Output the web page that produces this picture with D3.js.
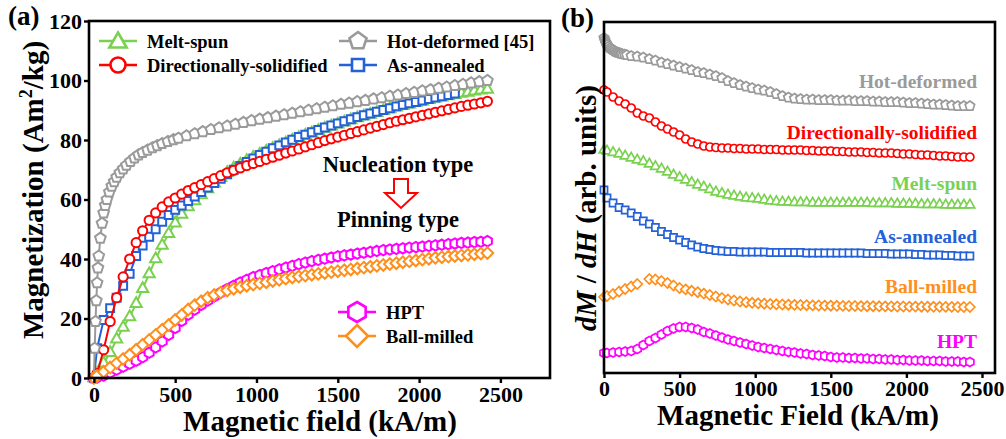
<!DOCTYPE html>
<html>
<head>
<meta charset="utf-8">
<script src="https://cdn.jsdelivr.net/npm/d3@7"></script>
<style>
  body { margin: 0; background: #fff; }
  svg text { font-family: 'Liberation Serif', 'Tinos', 'Times New Roman', 'DejaVu Serif', serif; font-weight: bold; }
</style>
</head>
<body>
<div id="chart"></div>
<script>
// shared field grid (kA/m)
const fieldGrid = [
  0, 20, 60, 100, 140, 180, 220, 260, 300, 340,
  380, 420, 460, 500, 540, 580, 620, 660, 700, 740,
  780, 820, 860, 900, 940, 980, 1020, 1060, 1100, 1140,
  1180, 1220, 1260, 1300, 1340, 1380, 1420, 1460, 1500, 1540,
  1580, 1620, 1660, 1700, 1740, 1780, 1820, 1860, 1900, 1940,
  1980, 2020, 2060, 2100, 2140, 2180, 2220, 2260, 2300, 2340,
  2380, 2420
];
const fieldTicks = [0, 500, 1000, 1500, 2000, 2500];
const magTicks = [0, 20, 40, 60, 80, 100, 120];

// (a) magnetization, Am2/kg
const dirSolidM = [
  0, 1.5, 9.5, 19, 27, 34, 40, 45.5, 49.5, 53,
  55.5, 57.5, 59.2, 60.5, 61.8, 63, 64, 65, 66, 67,
  68, 69, 69.8, 70.6, 71.4, 72.1, 72.8, 73.5, 74.2, 74.9,
  75.6, 76.3, 77, 77.7, 78.4, 79.1, 79.8, 80.4, 81, 81.6,
  82.2, 82.8, 83.4, 84, 84.6, 85.2, 85.8, 86.3, 86.8, 87.3,
  87.8, 88.3, 88.8, 89.3, 89.8, 90.3, 90.8, 91.3, 91.7, 92.1,
  92.5, 93
];
const meltSpunM = [
  0, 1.5, 5, 8.5, 13, 17, 20.5, 25, 30, 35,
  40, 44.5, 48.5, 52, 55, 57.5, 59.5, 61.5, 63.5, 65.5,
  67.3, 69, 70.5, 71.8, 73, 74.1, 75.1, 76.1, 77.1, 78,
  78.9, 79.8, 80.7, 81.5, 82.3, 83.1, 83.9, 84.6, 85.3, 86,
  86.7, 87.4, 88, 88.6, 89.2, 89.8, 90.4, 91, 91.5, 92,
  92.5, 93, 93.5, 94, 94.4, 94.8, 95.2, 95.6, 96, 96.4,
  96.7, 97
];
// as-annealed stops at 2220
const asAnnealedM = [
  0, 10, 19.5, 23.5, 27, 31, 35, 41, 44.5, 47.5,
  50, 52.5, 54.8, 56.5, 58, 59.5, 61, 62.5, 64, 65.5,
  67, 68.5, 70, 71.3, 72.6, 73.8, 75, 76.1, 77.2, 78.2,
  79.2, 80.1, 81, 81.8, 82.6, 83.4, 84.2, 84.9, 85.6, 86.3,
  87, 87.7, 88.3, 88.9, 89.5, 90.1, 90.7, 91.3, 91.8, 92.3,
  92.8, 93.3, 93.8, 94.3, 94.7, 95.1, 95.6
];
const hotField = [
  0, 5, 10, 15, 20, 25, 30, 40, 50, 60,
  70, 80, 95, 110, 125, 140, 160, 180, 200, 225,
  250, 275, 300, 330, 360, 390, 420, 455, 490, 520,
  570, 620, 670, 720, 770, 820, 870, 920, 970, 1020,
  1070, 1120, 1170, 1220, 1270, 1320, 1370, 1420, 1470, 1520,
  1570, 1620, 1670, 1720, 1770, 1820, 1870, 1920, 1970, 2020,
  2070, 2120, 2170, 2220, 2270, 2320, 2370, 2420
];
const hotDeformedM = [
  0, 10, 19, 26, 32, 37, 41, 47, 52, 55.5,
  58, 60, 62.5, 64.5, 66, 67.5, 69, 70.3, 71.5, 72.8,
  74, 75, 75.8, 76.6, 77.4, 78.1, 78.8, 79.5, 80.1, 80.6,
  81.4, 82.1, 82.8, 83.5, 84.1, 84.7, 85.3, 85.9, 86.5, 87,
  87.5, 88, 88.5, 89, 89.5, 90, 90.5, 91, 91.5, 92,
  92.4, 92.9, 93.3, 93.8, 94.2, 94.7, 95.1, 95.6, 96, 96.5,
  96.9, 97.4, 97.8, 98.3, 98.7, 99.2, 99.6, 100
];
const hptM = [
  0, 0.2, 0.8, 1.8, 2.8, 3.8, 4.8, 5.8, 7, 8.5,
  10.3, 12.3, 14.5, 16.8, 19.2, 21.3, 23, 24.6, 26, 27.4,
  28.7, 29.9, 31, 32.1, 33, 33.9, 34.6, 35.3, 35.9, 36.5,
  37.1, 37.7, 38.3, 38.8, 39.3, 39.7, 40.1, 40.5, 40.9, 41.2,
  41.5, 41.8, 42.1, 42.4, 42.7, 43, 43.2, 43.4, 43.6, 43.8,
  44, 44.2, 44.4, 44.6, 44.8, 45, 45.2, 45.4, 45.5, 45.7,
  45.8, 46
];
const ballMilledM = [
  0, 0.7, 2.1, 3.5, 5, 6.4, 7.8, 9.5, 11.2, 12.8,
  14.5, 16.2, 17.8, 19.5, 21.2, 23, 24.5, 25.8, 27, 27.9,
  28.7, 29.4, 30, 30.5, 31, 31.4, 31.8, 32.2, 32.6, 33,
  33.4, 33.8, 34.1, 34.4, 34.7, 35, 35.3, 35.6, 35.9, 36.2,
  36.5, 36.8, 37.1, 37.4, 37.7, 38, 38.3, 38.6, 38.9, 39.2,
  39.5, 39.8, 40.1, 40.4, 40.6, 40.8, 41, 41.2, 41.4, 41.6,
  41.8, 42
];

// (b) dM/dH, arbitrary units, curves stacked with offsets
const hotFieldB = [
  0, 5, 10, 15, 20, 30, 40, 50, 60, 70,
  80, 90, 100, 110, 120, 135, 150, 180, 220, 260,
  300, 340, 380, 420, 460, 500, 540, 580, 620, 660,
  700, 740, 780, 820, 860, 900, 940, 980, 1020, 1060,
  1100, 1140, 1180, 1220, 1260, 1300, 1340, 1380, 1420, 1460,
  1500, 1540, 1580, 1620, 1660, 1700, 1740, 1780, 1820, 1860,
  1900, 1940, 1980, 2020, 2060, 2100, 2140, 2180, 2220, 2260,
  2300, 2340, 2380, 2420
];
const hotDeformedD = [
  335, 333, 331, 329.5, 328, 326.5, 325, 324, 323, 322,
  321, 320.5, 320, 319.5, 319, 318.5, 318, 317, 316.5, 315.5,
  314, 312.5, 310.5, 309, 307.5, 306, 304.5, 303, 301, 300,
  298.5, 297, 295, 292, 290, 288, 286.5, 285, 283.5, 282.5,
  281, 279, 277, 275.5, 274.5, 274, 273.5, 273.5, 273, 273,
  273, 272.5, 272.5, 272.5, 272, 272, 272, 271.5, 271.5, 271,
  271, 271, 270.5, 270, 270, 269.5, 269, 268.5, 268.5, 268,
  267.5, 267, 267, 267
];
const dirSolidD = [
  283, 281, 276, 272, 269, 265, 260, 257, 255, 251,
  247, 244, 241, 238, 234, 231, 229, 227, 226, 225.5,
  225, 225, 224.5, 224.5, 224, 224, 224, 223.5, 223.5, 223.5,
  223, 223, 223, 223, 222.5, 222.5, 222, 222, 222, 221.5,
  221.5, 221, 221, 221, 220.5, 220.5, 220, 220, 220, 219.5,
  219, 219, 218.5, 218, 218, 217.5, 217, 217, 216.5, 216,
  216, 216
];
const meltSpunD = [
  223, 222, 220.5, 219, 217, 215, 213, 211.5, 209, 206.5,
  204, 201, 198, 195.5, 193, 190.5, 188, 186, 183.5, 181,
  179.5, 178, 177, 176, 175, 174.5, 174, 173, 172, 171.5,
  171, 171, 170.5, 170.5, 170.5, 170, 170, 170, 170, 170,
  170, 170, 170, 170, 170, 169.5, 169.5, 169.5, 169.5, 169,
  169, 169, 169, 168.5, 168.5, 168.5, 168.5, 168, 168, 168,
  168, 168
];
const asAnnealedD = [
  183, 175, 170, 165.5, 163, 160, 156.5, 152, 149, 145.5,
  141.5, 138.5, 135.5, 133, 130.5, 128, 126, 124.5, 123.5, 122.5,
  122, 121.5, 121.5, 121, 121, 121, 121, 121, 120.5, 120.5,
  120.5, 120.5, 120.5, 120.5, 120, 120, 120, 120, 120, 120,
  120, 120, 120, 120, 119.5, 119.5, 119.5, 119.5, 119, 119,
  119, 119, 118.5, 118.5, 118, 118, 118, 117.5, 117.5, 117,
  117, 117
];
const ballMilledD = [
  76, 77, 79, 81.5, 84, 86.5, 89, null, 94, 93.5,
  92, 90, 87.5, 85, 83.6, 82.2, 80.8, 79.4, 78, 76.5,
  75, 73.5, 72.5, 71.5, 70.8, 70.2, 69.7, 69.3, 69, 68.7,
  68.5, 68.3, 68.1, 68, 67.8, 67.6, 67.5, 67.4, 67.3, 67.2,
  67.1, 67, 67, 66.9, 66.8, 66.8, 66.7, 66.6, 66.6, 66.5,
  66.5, 66.4, 66.4, 66.3, 66.3, 66.2, 66.2, 66.1, 66.1, 66,
  66, 66
];
const hptD = [
  20, 20, 20.5, 21, 21.5, 22, 24, 28, 32, 35,
  38.5, 42, 44.5, 46, 46, 45, 43.5, 41, 39.5, 37.5,
  35.5, 33.5, 32, 30.5, 29, 27.5, 26, 25, 24, 23,
  22, 21, 20.5, 19.5, 19, 18, 17.5, 17, 16, 15.5,
  15.5, 15, 15, 14.5, 14.5, 14, 14, 13.5, 13.5, 13,
  13, 12.5, 12.5, 12.5, 12, 12, 12, 11.5, 11.5, 11.5,
  11, 11
];

const colors = {
  gray: '#9a9a9a', red: '#ff0000', green: '#7ad150',
  blue: '#2461d8', orange: '#ff8f1c', magenta: '#ff00ff'
};
const serif = "'Liberation Serif', 'Tinos', 'Times New Roman', 'DejaVu Serif', serif";

const toPoints = (field, values) => values
  .map((v, i) => ({ x: field[i], y: v }))
  .filter(d => d.y !== null);

// drawing order = z-order
const seriesA = [
  { name: 'Melt-spun', color: colors.green, shape: 'triangle', r: 6.5, pts: toPoints(fieldGrid, meltSpunM) },
  { name: 'As-annealed', color: colors.blue, shape: 'square', r: 5.6, pts: toPoints(fieldGrid, asAnnealedM) },
  { name: 'Directionally-solidified', color: colors.red, shape: 'circle', r: 4.6, pts: toPoints(fieldGrid, dirSolidM) },
  { name: 'Hot-deformed [45]', color: colors.gray, shape: 'pentagon', r: 5.6, pts: toPoints(hotField, hotDeformedM) },
  { name: 'HPT', color: colors.magenta, shape: 'hexagon', r: 5.2, pts: toPoints(fieldGrid, hptM) },
  { name: 'Ball-milled', color: colors.orange, shape: 'diamond', r: 5.8, pts: toPoints(fieldGrid, ballMilledM) }
];

const seriesB = [
  { name: 'Hot-deformed', color: colors.gray, shape: 'pentagon', r: 5, pts: toPoints(hotFieldB, hotDeformedD), ly: 88 },
  { name: 'Directionally-solidified', color: colors.red, shape: 'circle', r: 4, pts: toPoints(fieldGrid, dirSolidD), ly: 139 },
  { name: 'Melt-spun', color: colors.green, shape: 'triangle', r: 5.6, pts: toPoints(fieldGrid, meltSpunD), ly: 190 },
  { name: 'As-annealed', color: colors.blue, shape: 'square', r: 5, pts: toPoints(fieldGrid, asAnnealedD), ly: 243 },
  { name: 'Ball-milled', color: colors.orange, shape: 'diamond', r: 5, pts: toPoints(fieldGrid, ballMilledD), ly: 293 },
  { name: 'HPT', color: colors.magenta, shape: 'hexagon', r: 4.6, pts: toPoints(fieldGrid, hptD), ly: 348 }
];

const polygon = (n, r, rot) => {
  const pts = d3.range(n).map(i => {
    const a = rot + i * 2 * Math.PI / n;
    return [r * Math.sin(a), -r * Math.cos(a)];
  });
  return 'M' + pts.map(p => p[0].toFixed(2) + ',' + p[1].toFixed(2)).join('L') + 'Z';
};

const markerPath = (shape, r) => {
  if (shape === 'circle') return d3.symbol(d3.symbolCircle, Math.PI * r * r)();
  if (shape === 'triangle') return polygon(3, r, 0);
  if (shape === 'square') return polygon(4, r, Math.PI / 4);
  if (shape === 'diamond') return polygon(4, r, 0);
  if (shape === 'pentagon') return polygon(5, r, 0);
  return polygon(6, r, 0);
};

const width = 1006;
const height = 439;

const svg = d3.select('#chart')
  .append('svg')
    .attr('width', width)
    .attr('height', height)
    .attr('viewBox', `0 0 ${width} ${height}`)
    .attr('font-family', serif)
    .attr('font-weight', 'bold');

const drawFrame = (box) => {
  svg.append('rect')
    .attr('x', box.left)
    .attr('y', box.top)
    .attr('width', box.right - box.left)
    .attr('height', box.bottom - box.top)
    .attr('fill', 'none')
    .attr('stroke', '#000')
    .attr('stroke-width', 2.6);
};

const styleAxis = (g, size) => {
  g.select('.domain').remove();
  g.attr('font-size', size)
    .attr('font-family', serif)
    .attr('font-weight', 'bold');
  g.selectAll('.tick line').attr('stroke', '#000').attr('stroke-width', 2.4);
  g.selectAll('.tick text').attr('fill', '#000');
};

const drawMarkers = (g, s, x, y, strokeW) => {
  const d = markerPath(s.shape, s.r);
  g.append('g')
    .selectAll('path')
    .data(s.pts)
    .join('path')
      .attr('d', d)
      .attr('transform', p => `translate(${x(p.x)},${y(p.y)})`)
      .attr('fill', '#fff')
      .attr('stroke', s.color)
      .attr('stroke-width', strokeW);
};

// ---------- panel (a)
const boxA = { left: 89, right: 550, top: 21, bottom: 378 };
const xA = d3.scaleLinear().domain([-30, 2805]).range([boxA.left, boxA.right]);
const yA = d3.scaleLinear().domain([0, 120]).range([boxA.bottom, boxA.top]);

const line = (x, y) => d3.line().x(d => x(d.x)).y(d => y(d.y));

const plotA = svg.append('g');
seriesA.forEach(s => {
  const g = plotA.append('g');
  g.append('path')
    .datum(s.pts)
    .attr('d', line(xA, yA))
    .attr('fill', 'none')
    .attr('stroke', s.color)
    .attr('stroke-width', 2);
  drawMarkers(g, s, xA, yA, 2);
});

drawFrame(boxA);

svg.append('g')
  .attr('transform', `translate(0,${boxA.bottom})`)
  .call(d3.axisBottom(xA).tickValues(fieldTicks).tickFormat(d3.format('d')).tickSize(5).tickPadding(3))
  .call(g => styleAxis(g, 22));

svg.append('g')
  .attr('transform', `translate(${boxA.left},0)`)
  .call(d3.axisLeft(yA).tickValues(magTicks).tickFormat(d3.format('d')).tickSize(5).tickPadding(2))
  .call(g => styleAxis(g, 22));

svg.append('text')
  .attr('x', 320)
  .attr('y', 431)
  .attr('text-anchor', 'middle')
  .attr('font-size', 29)
  .text('Magnetic field (kA/m)');

const yTitleA = svg.append('text')
  .attr('transform', 'translate(43,190) rotate(-90)')
  .attr('text-anchor', 'middle')
  .attr('font-size', 29);
yTitleA.append('tspan').text('Magnetization (Am');
yTitleA.append('tspan').attr('dy', -11).attr('font-size', 18).text('2');
yTitleA.append('tspan').attr('dy', 11).text('/kg)');

svg.append('text')
  .attr('x', 8)
  .attr('y', 25)
  .attr('font-size', 27)
  .text('(a)');

// legends
const legendItems = [
  { s: seriesA[0], x: 118, y: 41 },
  { s: seriesA[2], x: 118, y: 65 },
  { s: seriesA[3], x: 358, y: 41 },
  { s: seriesA[1], x: 358, y: 65 },
  { s: seriesA[4], x: 357, y: 312 },
  { s: seriesA[5], x: 357, y: 336 }
];
const legendR = { triangle: 10, circle: 7.5, pentagon: 9, square: 8.5, hexagon: 10, diamond: 11 };

legendItems.forEach(item => {
  const g = svg.append('g');
  g.append('line')
    .attr('x1', item.x - 19)
    .attr('x2', item.x + 19)
    .attr('y1', item.y)
    .attr('y2', item.y)
    .attr('stroke', item.s.color)
    .attr('stroke-width', 2.5);
  g.append('path')
    .attr('d', markerPath(item.s.shape, legendR[item.s.shape]))
    .attr('transform', `translate(${item.x},${item.y + (item.s.shape === 'triangle' ? 1.5 : 0)})`)
    .attr('fill', '#fff')
    .attr('stroke', item.s.color)
    .attr('stroke-width', 2.6);
  g.append('text')
    .attr('x', item.x + 29)
    .attr('y', item.y + 6.5)
    .attr('font-size', 18.5)
    .text(item.s.name);
});

// nucleation -> pinning annotation
svg.append('text')
  .attr('x', 398)
  .attr('y', 172)
  .attr('text-anchor', 'middle')
  .attr('font-size', 22.5)
  .text('Nucleation type');

svg.append('path')
  .attr('d', 'M394,179 L408,179 L408,193 L417,193 L401,208 L385,193 L394,193 Z')
  .attr('fill', '#fff')
  .attr('stroke', '#ff0000')
  .attr('stroke-width', 2);

svg.append('text')
  .attr('x', 398)
  .attr('y', 227)
  .attr('text-anchor', 'middle')
  .attr('font-size', 22.5)
  .text('Pinning type');

// ---------- panel (b)
const boxB = { left: 604, right: 995, top: 22, bottom: 373 };
const xB = d3.scaleLinear().domain([0, 2586]).range([boxB.left, boxB.right]);
const yB = d3.scaleLinear().domain([0, 350]).range([boxB.bottom, boxB.top + 1]);

const plotB = svg.append('g');
seriesB.forEach(s => {
  drawMarkers(plotB, s, xB, yB, 1.7);
  svg.append('text')
    .attr('x', 977)
    .attr('y', s.ly)
    .attr('text-anchor', 'end')
    .attr('font-size', 19.5)
    .attr('fill', s.color)
    .text(s.name);
});

drawFrame(boxB);

svg.append('g')
  .attr('transform', `translate(0,${boxB.bottom})`)
  .call(d3.axisBottom(xB).tickValues(fieldTicks).tickFormat(d3.format('d')).tickSize(5).tickPadding(2))
  .call(g => styleAxis(g, 22));

svg.append('text')
  .attr('x', 798)
  .attr('y', 425)
  .attr('text-anchor', 'middle')
  .attr('font-size', 29)
  .text('Magnetic Field (kA/m)');

const yTitleB = svg.append('text')
  .attr('transform', 'translate(596,208) rotate(-90)')
  .attr('text-anchor', 'middle')
  .attr('font-size', 29);
yTitleB.append('tspan').attr('font-style', 'italic').text('dM');
yTitleB.append('tspan').text(' / ');
yTitleB.append('tspan').attr('font-style', 'italic').text('dH');
yTitleB.append('tspan').text(' (arb. units)');

svg.append('text')
  .attr('x', 561)
  .attr('y', 27)
  .attr('font-size', 27)
  .text('(b)');
</script>
</body>
</html>
